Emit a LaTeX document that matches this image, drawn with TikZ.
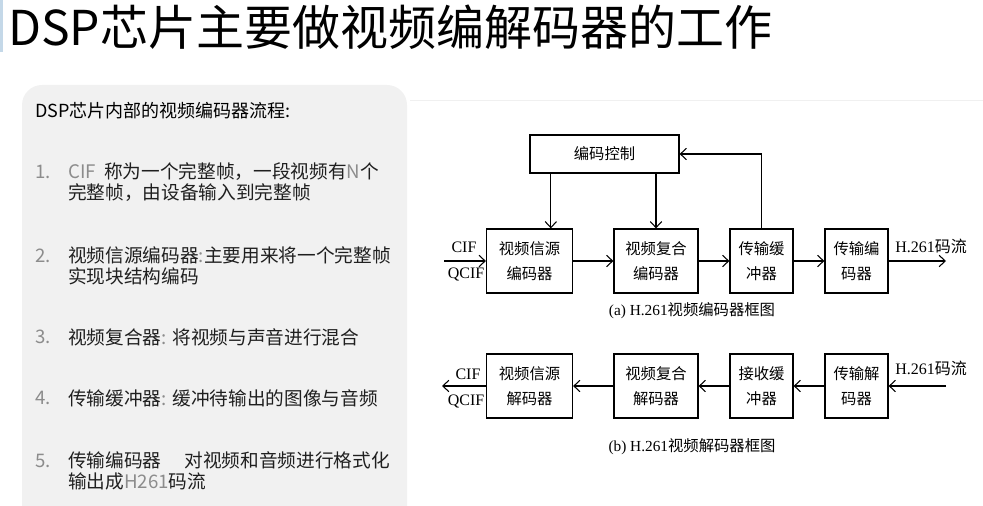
\documentclass[tikz,border=0pt]{standalone}
\usepackage{xcolor}
\usepackage{fontspec}
\setmainfont{Noto Sans CJK SC}
\newfontfamily\latfont{Liberation Serif}
\usepackage{tikz}
\usetikzlibrary{arrows.meta,positioning,calc}

\definecolor{panelgray}{HTML}{F1F1F1}
\definecolor{barblue}{HTML}{C4D8E8}
\definecolor{numgray}{HTML}{8C8C8C}
\newcommand{\lite}[1]{{\color{numgray}#1}}

\begin{document}
\begin{tikzpicture}[
    x=0.75pt, y=-0.75pt,
    box/.style={draw=black, line width=0.9pt, align=center, inner sep=0pt, font=\fontsize{11.5}{19}\selectfont},
    widebox/.style={box, minimum width=64.5pt, minimum height=48pt},
    narrowbox/.style={box, minimum width=47.25pt, minimum height=48pt},
    lbl/.style={inner sep=0pt, font=\latfont\fontsize{12}{12}\selectfont},
    figcap/.style={inner sep=0pt, font=\fontsize{11.5}{12}\selectfont},
    num/.style={anchor=west, inner sep=0pt, text=numgray, font=\fontsize{14}{15.5}\selectfont},
    item/.style={anchor=west, inner sep=0pt, align=left, text=black!88, font=\fontsize{14}{15.5}\selectfont},
    arr/.style={-{Straight Barb[length=1.6mm, width=3mm]}, line width=0.8pt, draw=black}
]
  \useasboundingbox (0,0) rectangle (983,506);

  % title and left panel
  \fill[barblue] (0,0) rectangle (3,52);
  \node[anchor=west, inner sep=0pt, font=\fontsize{36}{36}\selectfont] (title) at (8,27) {DSP芯片主要做视频编解码器的工作};
  \fill[panelgray, rounded corners=15] (22,85) rectangle (407,540);
  \draw[black!6] (410,100) -- (983,100);

  \node[anchor=west, inner sep=0pt, font=\fontsize{13.5}{14}\selectfont] (head) at (35,111) {DSP芯片内部的视频编码器流程:};

  \node[num] (n1) at (35,172) {1.};
  \node[item] (t1) at (68,182) {\lite{CIF}\ \ 称为一个完整帧，一段视频有\lite{N}个\\完整帧，由设备输入到完整帧};
  \node[num] (n2) at (35,256) {2.};
  \node[item] (t2) at (68,266) {视频信源编码器\lite{:}主要用来将一个完整帧\\实现块结构编码};
  \node[num] (n3) at (35,337) {3.};
  \node[item] (t3) at (68,337) {视频复合器\lite{:} 将视频与声音进行混合};
  \node[num] (n4) at (35,398) {4.};
  \node[item] (t4) at (68,398) {传输缓冲器\lite{:} 缓冲待输出的图像与音频};
  \node[num] (n5) at (35,461) {5.};
  \node[item] (t5) at (68,471) {传输编码器\quad\ 对视频和音频进行格式化\\输出成\lite{H261}码流};

  % (a) encoder
  \node[box, minimum width=111.75pt, minimum height=28.5pt] (ctrl) at (604.5,154) {编码控制};
  \node[widebox] (enc1) at (529.5,261) {视频信源\\编码器};
  \node[widebox, minimum width=63pt] (enc2) at (656,261) {视频复合\\编码器};
  \node[narrowbox] (enc3) at (761.5,261) {传输缓\\冲器};
  \node[narrowbox] (enc4) at (856.5,261) {传输编\\码器};
  \coordinate (inA) at (444,261);
  \coordinate (outA) at (946,261);

  \draw[arr] (inA) -- (enc1.west);
  \draw[arr] (enc1) -- (enc2);
  \draw[arr] (enc2) -- (enc3);
  \draw[arr] (enc3) -- (enc4);
  \draw[arr] (enc4.east) -- (outA);
  \draw[arr] ([xshift=16pt]enc1.north |- ctrl.south) -- ([xshift=16pt]enc1.north);
  \draw[arr] (enc2.north |- ctrl.south) -- (enc2.north);
  \draw[arr] (enc3.north) |- (ctrl.east);

  \node[lbl] (cifA) at (464,247) {CIF};
  \node[lbl] (qcifA) at (466,275) {QCIF};
  \node[lbl, anchor=west] (h261A) at (895,246) {H.261{\fontspec{Noto Sans CJK SC}码流}};
  \node[figcap] (capA) at (692,311) {{\latfont (a) H.261}视频编码器框图};

  % (b) decoder
  \node[widebox] (dec1) at (529.5,386) {视频信源\\解码器};
  \node[widebox, minimum width=63pt] (dec2) at (656,386) {视频复合\\解码器};
  \node[narrowbox] (dec3) at (761.5,386) {接收缓\\冲器};
  \node[narrowbox] (dec4) at (856.5,386) {传输解\\码器};
  \coordinate (inB) at (946,386);
  \coordinate (outB) at (442,386);

  \draw[arr] (inB) -- (dec4.east);
  \draw[arr] (dec4) -- (dec3);
  \draw[arr] (dec3) -- (dec2);
  \draw[arr] (dec2) -- (dec1);
  \draw[arr] (dec1.west) -- (outB);

  \node[lbl] (cifB) at (468,374) {CIF};
  \node[lbl] (qcifB) at (466,401) {QCIF};
  \node[lbl, anchor=west] (h261B) at (895,368) {H.261{\fontspec{Noto Sans CJK SC}码流}};
  \node[figcap] (capB) at (692,447) {{\latfont (b) H.261}视频解码器框图};
\end{tikzpicture}
\end{document}
